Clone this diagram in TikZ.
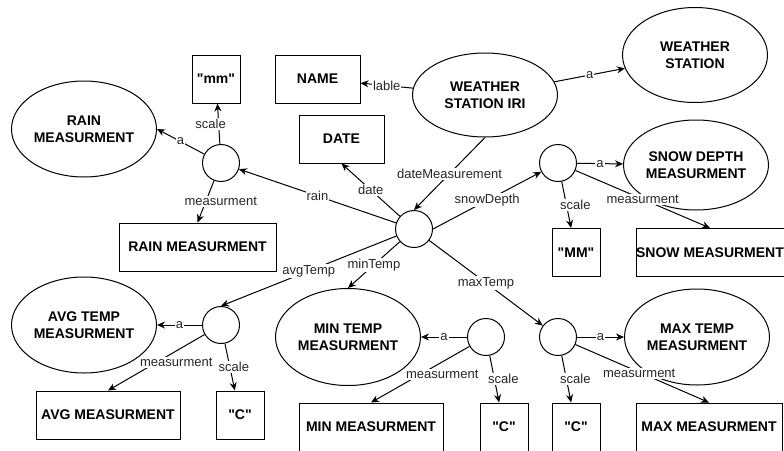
\documentclass[tikz,border=0pt]{standalone}
\usepackage{fontspec}
\setmainfont{Liberation Sans}[Ligatures=TeXOff]
\usetikzlibrary{shapes.geometric,arrows.meta}

\begin{document}
\begin{tikzpicture}[x=1pt,y=-1pt,line width=1pt,
  >={Stealth[length=8pt,width=7pt]},
  ell/.style={draw, ellipse, minimum width=145pt, minimum height=96pt, inner sep=0pt,
    align=center, font=\bfseries\fontsize{14}{17}\selectfont},
  box/.style={draw, rectangle, minimum width=48pt, minimum height=48pt, inner sep=0pt,
    font=\bfseries\fontsize{14}{17}\selectfont},
  blank/.style={draw, circle, minimum size=37pt, inner sep=0pt},
  lbl/.style={fill=white, inner sep=1pt, text=black!85, font=\fontsize{13}{15}\selectfont}]
\clip (0,0) rectangle (784,450);

% station
\node[ell, minimum height=84pt] (iri) at (485,95) {WEATHER\\STATION IRI};
\node[ell, minimum height=95pt] (ws) at (695,55) {WEATHER\\STATION};
\node[box, minimum width=85pt] (name) at (317.5,79) {NAME};
\node[box, minimum width=85pt] (date) at (341.5,139) {DATE};
\node[blank] (hub) at (414,229) {};

% rain
\node[ell] (rainm) at (84,129) {RAIN\\MEASURMENT};
\node[blank] (rainc) at (221,163) {};
\node[box] (rains) at (216,79) {"mm"};
\node[box, minimum width=157pt] (rainv) at (197.5,247) {RAIN MEASURMENT};

% snow depth
\node[blank] (snowc) at (558,163) {};
\node[ell, minimum height=90pt] (snowm) at (696,165) {SNOW DEPTH\\MEASURMENT};
\node[box] (snows) at (576,252.5) {"MM"};
\node[box, minimum width=148pt] (snowv) at (710,252.5) {SNOW MEASURMENT};

% temperatures
\node[ell] (avgm) at (84,325) {AVG TEMP\\MEASURMENT};
\node[blank] (avgc) at (221,325) {};
\node[box, minimum width=144pt] (avgv) at (108,415) {AVG MEASURMENT};
\node[box] (avgs) at (240,415) {"C"};

\node[ell, minimum height=97pt] (mint) at (348,337) {MIN TEMP\\MEASURMENT};
\node[blank] (minc) at (486,337) {};
\node[box, minimum width=144pt] (minv) at (371,427) {MIN MEASURMENT};
\node[box] (mins) at (504,427) {"C"};

\node[blank] (maxc) at (558,337) {};
\node[ell] (maxt) at (697,337) {MAX TEMP\\MEASURMENT};
\node[box] (maxs) at (576,427) {"C"};
\node[box, minimum width=146pt] (maxv) at (709,427) {MAX MEASURMENT};

% edges out of the station
\draw[->] (iri) -- node[lbl] {lable} (name);
\draw[->] (iri) -- node[lbl] {a} (ws);
\draw[->] (iri.south) -- node[lbl] {dateMeasurement} (hub.north);
\draw[->] (hub) -- node[lbl] {date} (date.south);
\draw[->] (hub) -- node[lbl] {rain} (rainc);
\draw[->] (hub.east) -- node[lbl] {snowDepth} (snowc);
\draw[->] (hub) -- node[lbl] {avgTemp} (avgc.north);
\draw[->] (hub) -- node[lbl] {minTemp} (mint.north);
\draw[->] (hub) -- node[lbl] {maxTemp} (maxc);

% blank nodes
\foreach \c/\m in {rainc/rainm.east, snowc/snowm, avgc/avgm, minc/mint, maxc/maxt}
  \draw[->] (\c) -- node[lbl] {a} (\m);
\foreach \c/\s/\dx in {rainc/rains/-8, snowc/snows/9, avgc/avgs/4, minc/mins/9, maxc/maxs/9}
  \draw[->] (\c) -- node[lbl, xshift=\dx pt] {scale} (\s);
\foreach \c/\v/\dx in {rainc/rainv/15, snowc/snowv/0, avgc/avgv/20, minc/minv/22, maxc/maxv/-3}
  \draw[->] (\c) -- node[lbl, xshift=\dx pt] {measurment} (\v.north);
\end{tikzpicture}
\end{document}
